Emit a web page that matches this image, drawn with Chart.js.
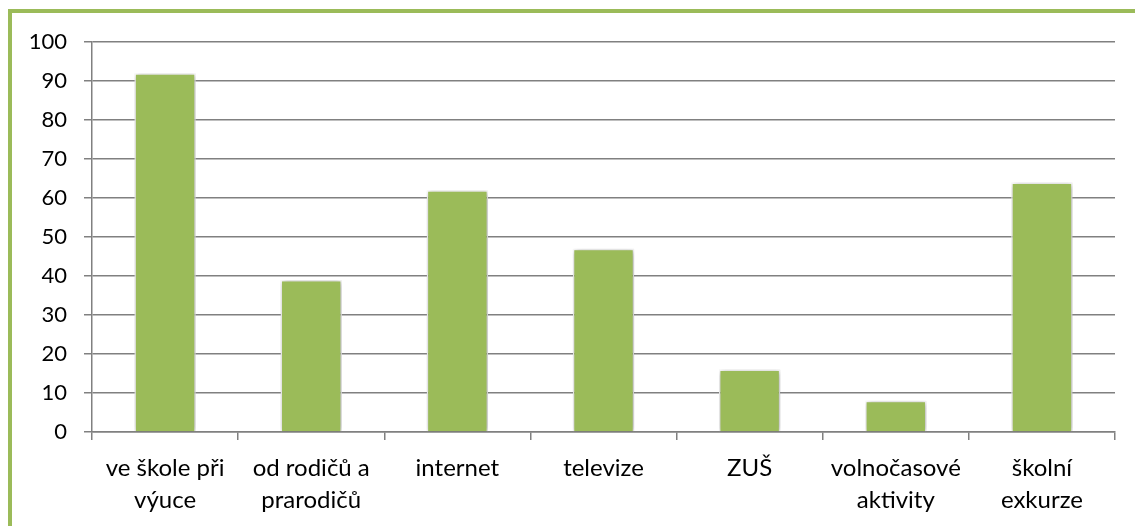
<!DOCTYPE html>
<html>
<head>
<meta charset="utf-8">
<script src="https://cdn.jsdelivr.net/npm/chart.js@4/dist/chart.umd.min.js"></script>
<style>
  html,body{margin:0;padding:0;background:#fff;overflow:hidden;}
  #wrap{position:relative;width:1135px;height:526px;}
  #frame{position:absolute;left:8px;top:9px;width:1200px;height:600px;border-left:4px solid #9bbb59;border-top:4px solid #9bbb59;}
  canvas{position:absolute;left:0;top:0;}
</style>
</head>
<body>
<div id="wrap">
  <div id="frame"></div>
  <canvas id="chart" width="1135" height="526"></canvas>
</div>
<script>
const categories = [
  ['ve škole při','výuce'],
  ['od rodičů a','prarodičů'],
  'internet',
  'televize',
  'ZUŠ',
  ['volnočasové','aktivity'],
  ['školní','exkurze']
];
const values = [92, 39, 62, 47, 16, 8, 64];
const yTicks = [0,10,20,30,40,50,60,70,80,90,100];

// soft shadow around bars
const barShadow = {
  id:'barShadow',
  beforeDatasetsDraw(chart){
    const c = chart.ctx; c.save();
    c.shadowColor='rgba(0,0,0,0.35)'; c.shadowBlur=6; c.shadowOffsetX=1; c.shadowOffsetY=1;
  },
  afterDatasetsDraw(chart){ chart.ctx.restore(); }
};

new Chart(document.getElementById('chart').getContext('2d'),{
  type:'bar',
  data:{labels:categories, datasets:[{
    data:values, backgroundColor:'#9bbb59', borderColor:'#ffffff', borderWidth:1.5,
    barPercentage:0.42, categoryPercentage:1
  }]},
  options:{
    responsive:false, animation:false,
    layout:{padding:{left:0, top:42, right:20, bottom:0}},
    plugins:{legend:{display:false}, tooltip:{enabled:false}},
    scales:{
      x:{
        grid:{display:true, offset:true, drawOnChartArea:false, drawTicks:true, tickLength:8, color:'#808080', lineWidth:1.5},
        border:{display:true, color:'#808080', width:1.5},
        ticks:{color:'#000', font:{family:'Lato', size:24, lineHeight:1.35}, padding:12, maxRotation:0, autoSkip:false},
        afterFit(s){ s.height = 94; }
      },
      y:{
        min:0, max:100,
        afterBuildTicks(s){ s.ticks = yTicks.map(v=>({value:v})); },
        grid:{color:'#808080', lineWidth:1.5, tickLength:8},
        border:{display:true, color:'#808080', width:1.5},
        ticks:{color:'#000', font:{family:'Lato', size:22}, padding:17},
        afterFit(s){ s.width = 92; }
      }
    }
  },
  plugins:[barShadow]
});
</script>
</body>
</html>
